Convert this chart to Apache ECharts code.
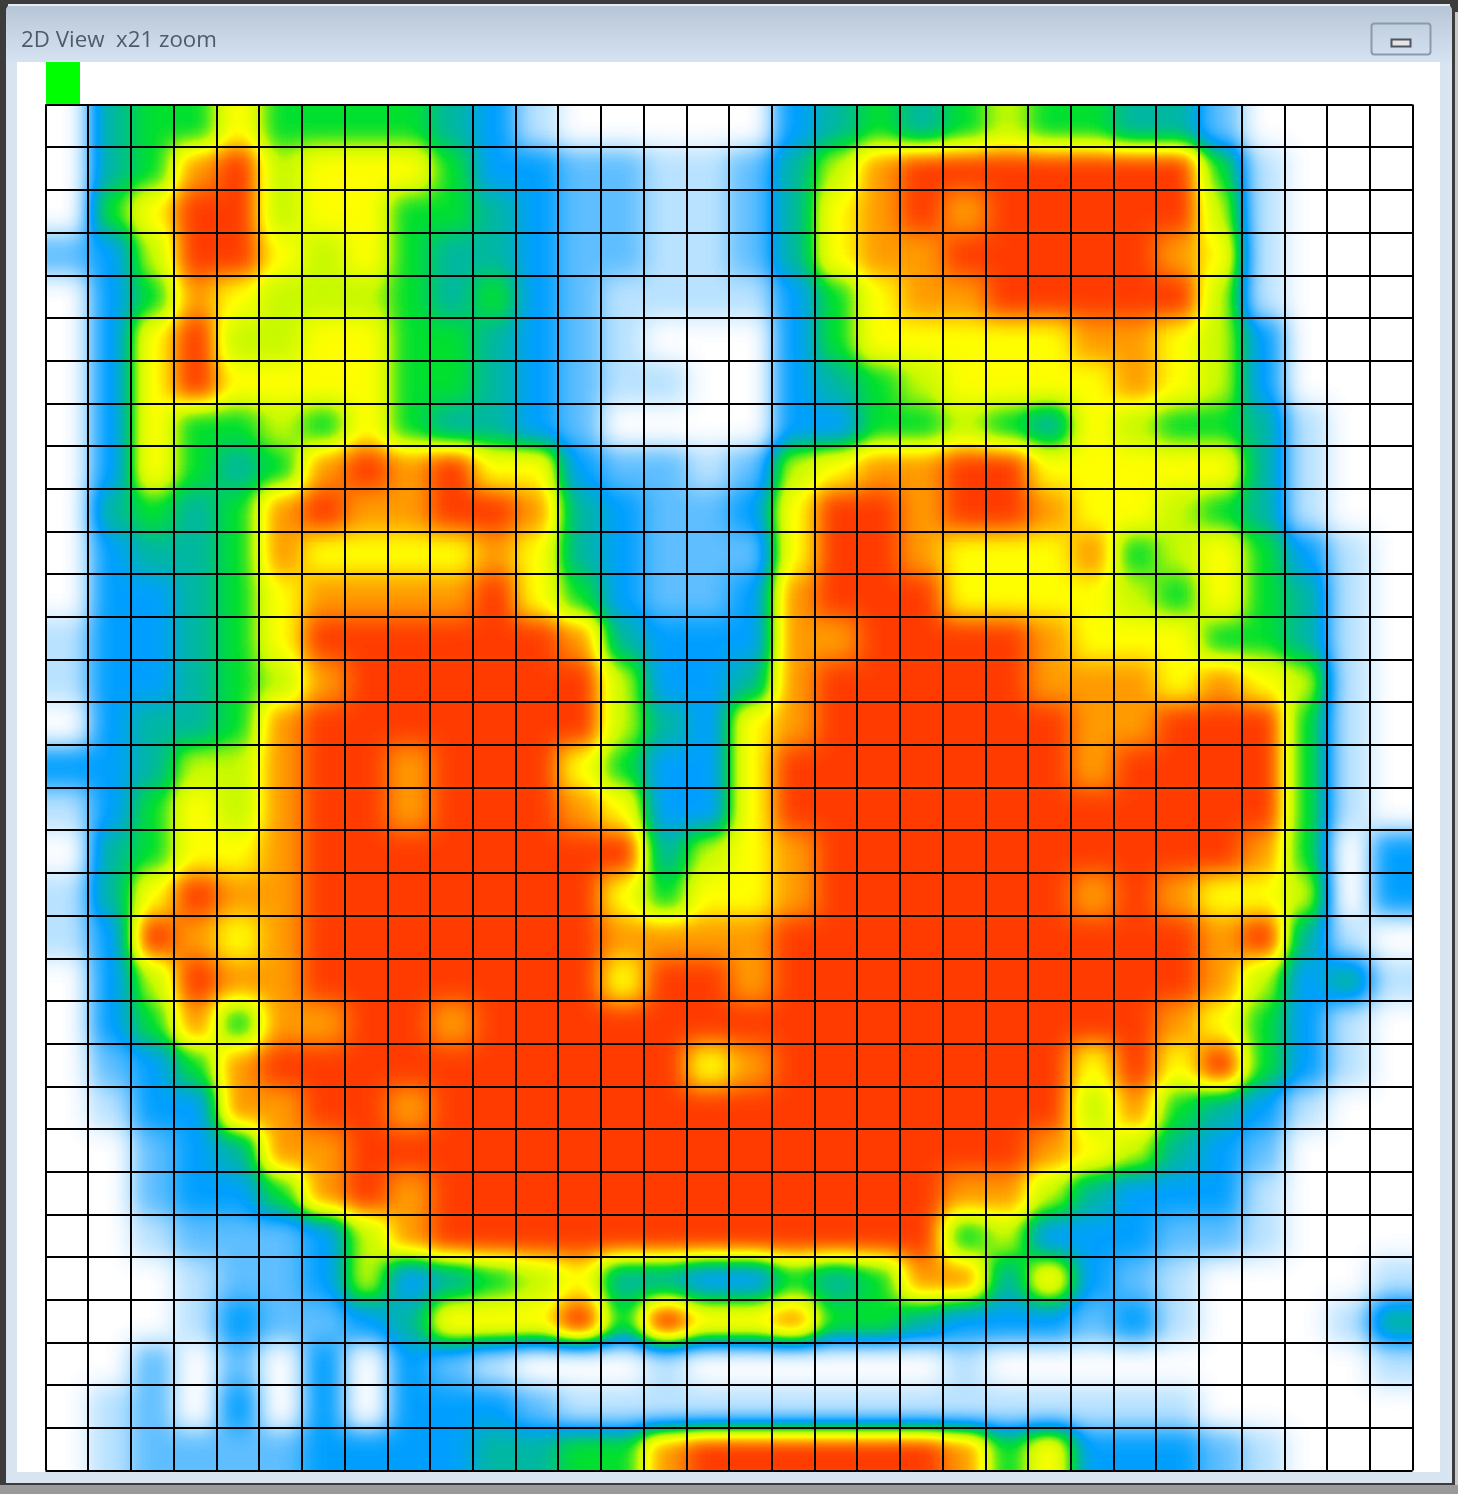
<!DOCTYPE html>
<html>
<head>
<meta charset="utf-8">
<title>2D View x21 zoom</title>
<script src="https://cdn.jsdelivr.net/npm/echarts@6/dist/echarts.min.js"></script>
<style>
html,body{margin:0;padding:0;background:#9a9a9a;}
#root{position:relative;width:1458px;height:1494px;overflow:hidden;}
#base,#lines{position:absolute;left:0;top:0;width:1458px;height:1494px;}
#clip{position:absolute;left:46px;top:105px;width:1367px;height:1366px;overflow:hidden;}
#heat{position:absolute;}
</style>
</head>
<body>
<svg width="0" height="0" style="position:absolute"><filter id="ramp" x="0" y="0" width="100%" height="100%" color-interpolation-filters="sRGB">
<feGaussianBlur stdDeviation="12"/>
<feComponentTransfer><feFuncR id="fr" type="table"/><feFuncG id="fg" type="table"/><feFuncB id="fb" type="table"/></feComponentTransfer>
</filter></svg>
<div id="root">
  <div id="base"></div>
  <div id="clip"><div id="heat"></div></div>
  <div id="lines"></div>
</div>
<script>
// One string per row, one digit (0-9) per cell.
const rows = [
"04557555543100000345456554420000",
"04589677753322112468999999951000",
"05799677554322112478989999961000",
"23699767544322112478899999871000",
"03587666545321111357889999961000",
"03796677554321000357777788763000",
"03797777554321100345677778763000",
"03755657544320000335565476554100",
"03754589897732212678899777774100",
"04545898899843223799899877654100",
"03445877778743222799877785675310",
"03345788889753223899977776575410",
"13345799999984333889999877755410",
"13345689999996334899999888787610",
"03445899999996437899999988999510",
"33466899899975337999999989999510",
"13576899899987337999999999999510",
"04577899999999467899999999998503",
"14798899999997577899999989877603",
"13987899999998888999999999989410",
"03698899999997998999999999986341",
"03585889989999999999999999875310",
"02358999999999978999999979795310",
"01338899899999999999999968543100",
"00234889999999999999999876432000",
"00233589899999999999988643331000",
"00122236899999999999956333221000",
"00012236345674433545884732100001",
"00013223477795977855433323100014",
"00202030321000100000010000000001",
"01203030333211111111111111100000",
"01222233334455899999985733321000"
];
const rampColors = ["#ffffff","#b8e2ff","#60bfff","#00a0ff","#00b8a0","#00e030","#c8fa00","#ffff00","#ff9c00","#ff3c00"];
const titleText = "2D View  x21 zoom";
const gridCount = 32;
const pad = 2;

// colour ramp applied to the smoothed cell values
const hex = c => [1,3,5].map(i => parseInt(c.substr(i,2),16)/255);
const rgb = rampColors.map(hex);
['fr','fg','fb'].forEach((id,k)=>document.getElementById(id).setAttribute('tableValues',rgb.map(v=>v[k].toFixed(3)).join(' ')));

const cell = 1367/gridCount, cellH = 1366/gridCount;
const heatEl = document.getElementById('heat');
heatEl.style.left = (-pad*cell)+'px';
heatEl.style.top = (-pad*cellH)+'px';
heatEl.style.width = ((gridCount+2*pad)*cell)+'px';
heatEl.style.height = ((gridCount+2*pad)*cellH)+'px';
heatEl.style.filter = 'url(#ramp)';

const cats = Array.from({length:gridCount+2*pad},(_,i)=>i);
const clamp = v => Math.max(0,Math.min(gridCount-1,v));
const heatData = [];
for (let y=0;y<gridCount+2*pad;y++) for (let x=0;x<gridCount+2*pad;x++) {
  heatData.push([x,y,+rows[clamp(y-pad)][clamp(x-pad)]]);
}
const heatChart = echarts.init(heatEl,null,{renderer:'canvas'});
heatChart.setOption({
  animation:false,
  backgroundColor:'#000',
  grid:{left:0,right:0,top:0,bottom:0},
  xAxis:{type:'category',data:cats,show:false},
  yAxis:{type:'category',data:cats,inverse:true,show:false},
  visualMap:{show:false,min:0,max:9,inRange:{color:['#000000','#ffffff']}},
  series:[{type:'heatmap',data:heatData,progressive:0,itemStyle:{borderWidth:0}}]
});

const baseChart = echarts.init(document.getElementById('base'),null,{renderer:'canvas'});
baseChart.setOption({
  animation:false,
  backgroundColor:'#9a9a9a',
  graphic:{elements:[
    {type:'rect',shape:{x:0,y:0,width:1458,height:1485},style:{fill:'#3c3c3c'}},
    {type:'rect',shape:{x:1455,y:12,width:3,height:1473},style:{fill:'#c4c9ce'}},
    {type:'rect',shape:{x:6,y:4,width:1446,height:1479,r:[7,7,0,0]},style:{fill:'#d8e4f0'}},
    {type:'rect',shape:{x:6,y:4,width:1446,height:59,r:[7,7,0,0]},style:{fill:{type:'linear',x:0,y:0,x2:0,y2:1,colorStops:[{offset:0,color:'#b6c5d5'},{offset:1,color:'#d6e3f1'}]}}},
    {type:'rect',shape:{x:8,y:4,width:1442,height:2},style:{fill:'#e4ebf2'}},
    {type:'rect',shape:{x:17,y:62,width:1423,height:1410},style:{fill:'#ffffff'}},
    {type:'rect',shape:{x:46,y:62,width:34,height:42},style:{fill:'#00ff00'}},
    {type:'text',style:{x:21,y:41,text:titleText,fill:'#4d5b6b',font:'22.3px "Open Sans", sans-serif',textVerticalAlign:'middle'}},
    {type:'rect',shape:{x:1371.5,y:23.5,width:59,height:31,r:3},style:{fill:'transparent',stroke:'#8a9bb0',lineWidth:2}},
    {type:'rect',shape:{x:1391.5,y:39.5,width:19,height:7},style:{fill:'#e8e4e0',stroke:'#4c5566',lineWidth:2}}
  ]}
});

const linesChart = echarts.init(document.getElementById('lines'),null,{renderer:'canvas'});
const gridLine = {show:true,lineStyle:{color:'#000',width:2}};
linesChart.setOption({
  animation:false,
  backgroundColor:'transparent',
  grid:{left:45.5,top:104.5,width:1367,height:1366},
  xAxis:{type:'value',min:0,max:gridCount,interval:1,axisLabel:{show:false},axisTick:{show:false},axisLine:{show:false},splitLine:gridLine},
  yAxis:{type:'value',min:0,max:gridCount,interval:1,axisLabel:{show:false},axisTick:{show:false},axisLine:{show:false},splitLine:gridLine},
  series:[]
});
</script>
</body>
</html>
